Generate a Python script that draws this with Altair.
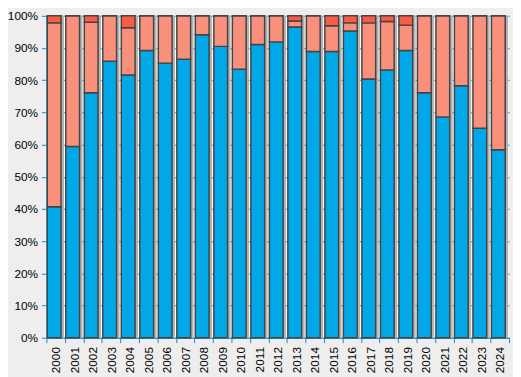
import altair as alt
import pandas as pd

years = [str(y) for y in range(2000, 2025)]
blue = [40.7, 59.4, 76.1, 85.9, 81.6, 89.2, 85.3, 86.5, 94.1, 90.5, 83.4, 91.1, 91.9, 96.5,
        88.9, 88.9, 95.3, 80.4, 83.2, 89.2, 76.1, 68.6, 78.3, 65.1, 58.4]
top = [97.8, 100, 98.0, 100, 96.3, 100, 100, 100, 100, 100, 100, 100, 100, 98.4,
       100, 96.9, 97.8, 97.8, 98.2, 97.1, 100, 100, 100, 100, 100]
series = ["A", "B", "C"]
colors = ["#00a8e8", "#f8907c", "#fa5b44"]

rows = []
for y, b, t in zip(years, blue, top):
    rows.append({"year": y, "series": "A", "value": b, "ord": 0})
    rows.append({"year": y, "series": "B", "value": t - b, "ord": 1})
    rows.append({"year": y, "series": "C", "value": 100 - t, "ord": 2})
df = pd.DataFrame(rows)
shadow_df = pd.DataFrame({"year": years, "value": [100] * len(years)})

xenc = alt.X("year:N", title=None, scale=alt.Scale(paddingInner=0, paddingOuter=0),
             axis=alt.Axis(labelAngle=-90, tickBand="extent", grid=False, domainColor="#0a8fd6",
                           tickColor="#0a8fd6", tickSize=5, labelPadding=4, labelFontSize=12,
                           labelColor="#000000", labelFont="Liberation Sans"))

yaxis = alt.Axis(values=list(range(0, 101, 10)), labelExpr="datum.value + '%'",
                 grid=True, gridColor="#1590d4", gridWidth=1, domainColor="#0a8fd6",
                 tickColor="#0a8fd6", tickSize=5, labelPadding=4, labelFontSize=12,
                 labelColor="#000000", labelFont="Liberation Sans")
yscale = alt.Scale(domain=[0, 100], nice=False)

shadow = alt.Chart(shadow_df).mark_bar(size=14, xOffset=1.5, color="#b4b4b4").encode(
    x=xenc,
    y=alt.Y("value:Q", title=None, scale=yscale, axis=yaxis),
)

bars = alt.Chart(df).mark_bar(size=14, xOffset=-1.5, stroke="#444444", strokeWidth=1.5).encode(
    x=xenc,
    y=alt.Y("value:Q", stack="zero", title=None, scale=yscale, axis=yaxis),
    color=alt.Color("series:N", scale=alt.Scale(domain=series, range=colors), legend=None),
    order=alt.Order("ord:Q"),
)

chart = alt.layer(shadow, bars).properties(
    width=470, height=327,
    background="#eeeeee",
    padding={"left": 39, "top": 5, "right": 4, "bottom": 37},
    autosize=alt.AutoSizeParams(type="none"),
).configure_view(fill="#ffffff", stroke=None)

chart.save("out.html", embed_options={"renderer": "svg", "actions": False})
